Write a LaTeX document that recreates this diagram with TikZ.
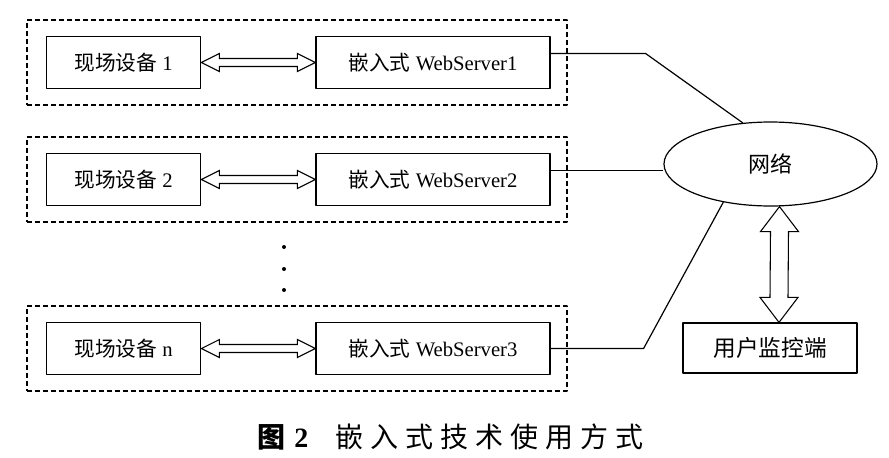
\documentclass[tikz,border=0pt]{standalone}
\usepackage{fontspec}
\setmainfont{Liberation Serif}
\newfontfamily\cjk{Noto Sans CJK SC}
\newfontfamily\cjkcap[LetterSpace=25]{Noto Sans CJK SC}
\usetikzlibrary{shapes.geometric,calc}
\begin{document}
\begin{tikzpicture}[x=.75pt, y=-.75pt, line width=.9pt, line join=round,
	box/.style={draw, inner sep=0pt, minimum height=38.5pt, font=\fontsize{15.5}{18}\selectfont},
	dev/.style={box, minimum width=116pt},
	web/.style={box, minimum width=175.5pt},
	grp/.style={draw, line width=.8pt, dash pattern=on 3.75pt off 2.25pt, inner sep=0pt, minimum width=405pt, minimum height=63.75pt},
	hollow/.style={draw, line width=.8pt, line join=miter}]
		\useasboundingbox (0,0) rectangle (889,457);
		% three rows: field device <=> embedded server
		\foreach \i/\y/\n in {1/62.5/1, 2/179.5/2, 3/348.5/n}{
			\node[grp] (grp\i) at (297,\y) {};
			\node[dev] (dev\i) at (123.5,\y) {{\cjk 现场设备} \n};
			\node[web] (web\i) at (433,\y) {{\cjk 嵌入式} WebServer\i};
			\draw[hollow] (dev\i.east) -- ++(18,-9) -- ++(0,5) -- ($(web\i.west)+(-18,-4)$) -- ++(0,-5) -- (web\i.west)
				-- ++(-18,9) -- ++(0,-5) -- ($(dev\i.east)+(18,4)$) -- ++(0,5) -- cycle;
		}
		\foreach \y in {247,269,290} \fill (284,\y) circle (1.5pt);
		% network and user side
		\node[draw, ellipse, inner sep=0pt, minimum width=159.75pt, minimum height=63pt, font=\cjk\fontsize{16.5}{19}\selectfont] (net) at (770.5,164) {网络};
		\node[box, minimum width=130.5pt, minimum height=37.5pt, font=\cjk\fontsize{17}{20}\selectfont] (user) at (770,348) {用户监控端};
		\coordinate (w1) at ([yshift=6.75pt]web1.east);
		\coordinate (w2) at ([yshift=6.75pt]web2.east);
		\draw (w1) -- ++(95,0) -- (net.124);
		\draw (w2) -- (w2 -| net.west);
		\draw (web3.east) -- ++(93,0) -- (net.219);
		\coordinate (t) at ([xshift=6.75pt]net.south);
		\coordinate (b) at ([xshift=6.75pt]user.north);
		\draw[hollow] (t) -- ++(19,25) -- ++(-10,0) -- ($(b)+(9,-25)$) -- ++(10,0) -- (b)
			-- ++(-19,-25) -- ++(10,0) -- ($(t)+(-9,25)$) -- ++(-10,0) -- cycle;
		% caption
		\node[font=\fontsize{21}{25}\selectfont] (cap) at (450,437) {{\cjk\bfseries 图}\hspace{7pt}\textbf{2}\hspace{20pt}{\cjkcap 嵌入式技术使用方式}};
\end{tikzpicture}
\end{document}
